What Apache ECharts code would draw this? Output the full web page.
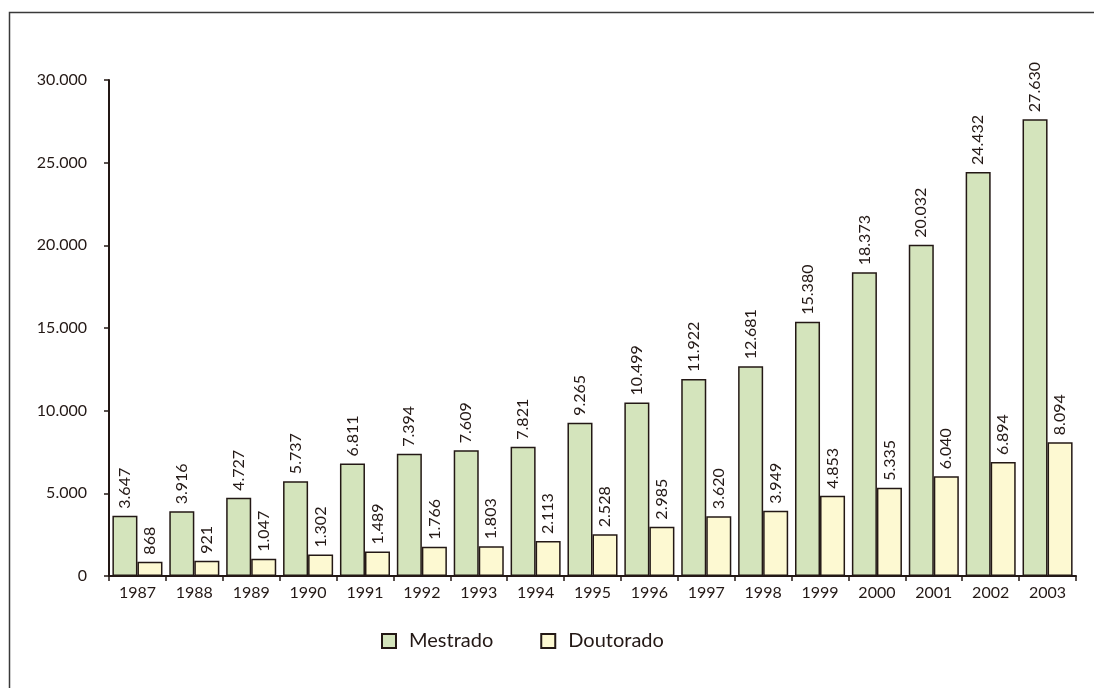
<!DOCTYPE html>
<html><head><meta charset="utf-8">
<script src="https://cdn.jsdelivr.net/npm/echarts@6/dist/echarts.min.js"></script>
<style>html,body{margin:0;padding:0;background:#fff}#c{width:1094px;height:688px}</style>
</head><body><div id="c"></div>
<script>
const years = ['1987','1988','1989','1990','1991','1992','1993','1994','1995','1996','1997','1998','1999','2000','2001','2002','2003'];
const mestrado = [3647,3916,4727,5737,6811,7394,7609,7821,9265,10499,11922,12681,15380,18373,20032,24432,27630];
const doutorado = [868,921,1047,1302,1489,1766,1803,2113,2528,2985,3620,3949,4853,5335,6040,6894,8094];
const yTicks = [0,5000,10000,15000,20000,25000,30000];

const fmt = v => String(v).replace(/\B(?=(\d{3})+(?!\d))/g, '.');
const font = 'Lato, "Open Sans", sans-serif';
const dark = '#231815';
const chart = echarts.init(document.getElementById('c'));
const lbl = {show:true, position:'top', rotate:90, align:'left', verticalAlign:'middle', distance:7,
  color:dark, fontFamily:font, fontSize:16, formatter:p=>fmt(p.value)};
chart.setOption({
  animation:false,
  graphic:[{type:'rect', shape:{x:9.5,y:12.5,width:1200,height:800}, style:{fill:null, stroke:'#3a3a3a', lineWidth:1.5}, silent:true}],
  grid:{left:109, right:18, top:80, bottom:112},
  legend:{top:626, left:376, itemGap:47, itemWidth:14, itemHeight:14, icon:'rect',
    textStyle:{fontFamily:font, fontSize:20, color:dark, padding:[0,0,0,8]},
    data:['Mestrado','Doutorado']},
  xAxis:{type:'category', data:years,
    axisLine:{lineStyle:{color:dark, width:2}},
    axisTick:{show:true, length:5, lineStyle:{color:dark, width:1.5}},
    axisLabel:{color:dark, fontFamily:font, fontSize:16, margin:9}},
  yAxis:{type:'value', min:yTicks[0], max:yTicks[yTicks.length-1], interval:5000,
    splitLine:{show:false},
    axisLine:{show:true, lineStyle:{color:dark, width:2}},
    axisTick:{show:true, length:5, lineStyle:{color:dark, width:1.5}},
    axisLabel:{color:dark, fontFamily:font, fontSize:16, margin:22, formatter:v=>fmt(v)}},
  series:[
    {name:'Mestrado', type:'bar', data:mestrado, barGap:'0%', barCategoryGap:'12%',
     itemStyle:{color:'#d4e4bc', borderColor:dark, borderWidth:1.5}, label:lbl},
    {name:'Doutorado', type:'bar', data:doutorado,
     itemStyle:{color:'#fdf9d2', borderColor:dark, borderWidth:1.5}, label:lbl}
  ]
});
</script></body></html>
